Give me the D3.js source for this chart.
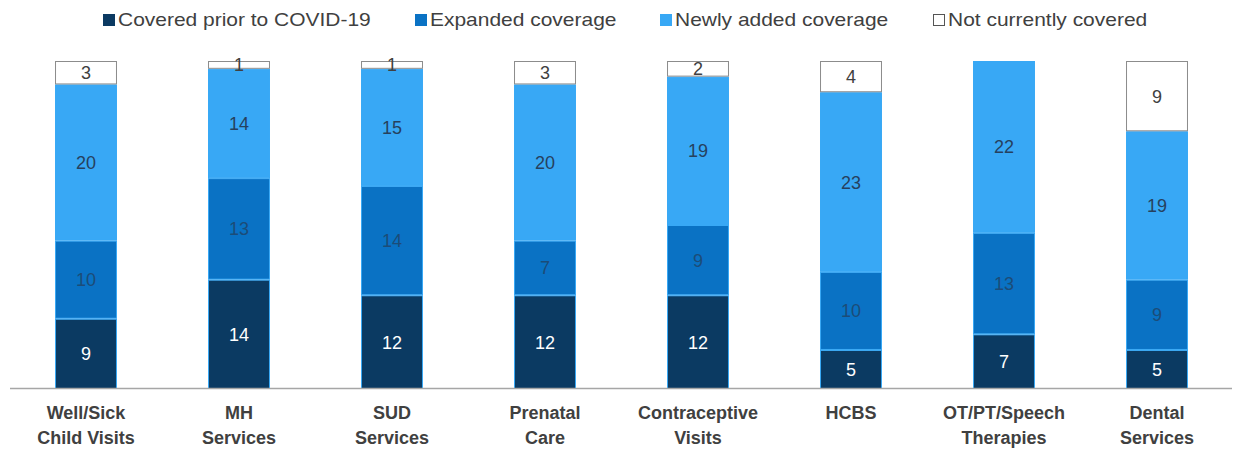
<!DOCTYPE html>
<html>
<head>
<meta charset="utf-8">
<script src="https://cdn.jsdelivr.net/npm/d3@7"></script>
<style>
  body { margin: 0; background: #fff; }
  text { font-family: "Liberation Sans", Arial, sans-serif; }
</style>
</head>
<body>
<div id="chart-area"></div>
<script>
// chart data
var categories = [["Well/Sick", "Child Visits"], ["MH", "Services"], ["SUD", "Services"],
    ["Prenatal", "Care"], ["Contraceptive", "Visits"], ["HCBS"], ["OT/PT/Speech", "Therapies"],
    ["Dental", "Services"]];
var seriesNames = ["Covered prior to COVID-19", "Expanded coverage", "Newly added coverage", "Not currently covered"];
var coveredPrior = [9, 14, 12, 12, 12, 5, 7, 5];
var expanded = [10, 13, 14, 7, 9, 10, 13, 9];
var newlyAdded = [20, 14, 15, 20, 19, 23, 22, 19];
var notCovered = [3, 1, 1, 3, 2, 4, 0, 9];

var fills = ["#0b3a62", "#0a72c4", "#38a8f5", "#ffffff"];
var strokes = ["#38a8f5", "#38a8f5", "#38a8f5", "#8c8c8c"];
var labelColors = ["#ffffff", "#1c4c78", "#26415e", "#404040"];

var width = 1238, height = 449;

var svg = d3.select("#chart-area")
    .append("svg")
    .attr("width", width)
    .attr("height", height);

var rows = categories.map(function(c, i) {
    return { key: i, prior: coveredPrior[i], exp: expanded[i], newly: newlyAdded[i], not: notCovered[i] };
});
var keys = ["prior", "exp", "newly", "not"];
var stacked = d3.stack().keys(keys)(rows);

var x = d3.scaleBand()
    .domain(d3.range(categories.length))
    .range([9.5, 1233.5])
    .paddingInner(0.595)
    .paddingOuter(0.2975);

var y = d3.scaleLinear().domain([0, 42]).range([389, 61]);

// segments
var layers = svg.selectAll(".layer").data(stacked)
    .enter().append("g")
    .attr("class", "layer");

layers.selectAll("rect")
    .data(function(d) { return d.filter(function(s) { return s[1] - s[0] > 0; }); })
    .enter().append("rect")
    .attr("x", function(d) { return x(d.data.key) + 0.5; })
    .attr("width", x.bandwidth() - 1)
    .attr("y", function(d) { return y(d[1]) + 0.5; })
    .attr("height", function(d) { return y(d[0]) - y(d[1]) - 1; })
    .attr("fill", function() { return fills[d3.select(this.parentNode).datum().index]; })
    .attr("stroke", function() { return strokes[d3.select(this.parentNode).datum().index]; })
    .attr("stroke-width", 1);

// value labels
layers.selectAll("text")
    .data(function(d) { return d.filter(function(s) { return s[1] - s[0] > 0; }); })
    .enter().append("text")
    .attr("x", function(d) { return x(d.data.key) + x.bandwidth() / 2; })
    .attr("y", function(d) { return (y(d[0]) + y(d[1])) / 2; })
    .attr("dy", "0.36em")
    .attr("text-anchor", "middle")
    .attr("font-size", "18px")
    .attr("fill", function() { return labelColors[d3.select(this.parentNode).datum().index]; })
    .text(function(d) { return d[1] - d[0]; });

// axis line
svg.append("line")
    .attr("x1", 10).attr("x2", 1232)
    .attr("y1", 388.5).attr("y2", 388.5)
    .attr("stroke", "#a6a6a6")
    .attr("stroke-width", 1.5);

// category labels
var catLabels = svg.selectAll(".cat").data(categories)
    .enter().append("text")
    .attr("class", "cat")
    .attr("text-anchor", "middle")
    .attr("font-size", "18px")
    .attr("font-weight", "bold")
    .attr("fill", "#404040")
    .attr("x", function(d, i) { return x(i) + x.bandwidth() / 2; });

catLabels.selectAll("tspan")
    .data(function(d) { return d; })
    .enter().append("tspan")
    .attr("x", function() { return d3.select(this.parentNode).attr("x"); })
    .attr("y", function(d, i) { return 419 + i * 25; })
    .text(function(d) { return d; });

// legend
var legendX = [103, 415, 660, 933];
var legend = svg.selectAll(".legend").data(seriesNames)
    .enter().append("g")
    .attr("class", "legend")
    .attr("transform", function(d, i) { return "translate(" + legendX[i] + ",20)"; });

legend.append("rect")
    .attr("x", 0.5).attr("y", -5.5)
    .attr("width", 11).attr("height", 11)
    .attr("fill", function(d, i) { return fills[i]; })
    .attr("stroke", function(d, i) { return i == 3 ? "#555" : fills[i]; })
    .attr("stroke-width", 1);

legend.append("text")
    .attr("transform", "translate(15,0) scale(1.165,1)")
    .attr("dy", "0.36em")
    .attr("font-size", "18px")
    .attr("fill", "#404040")
    .text(function(d) { return d; });
</script>
</body>
</html>
